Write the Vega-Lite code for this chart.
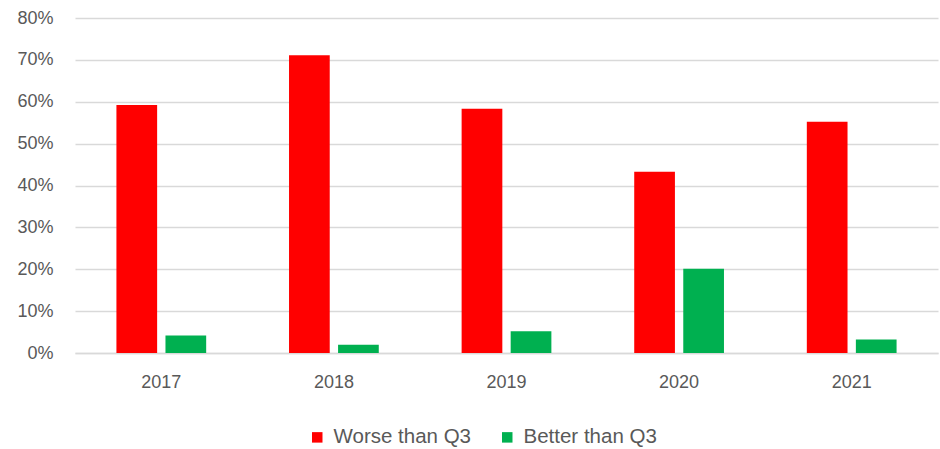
{
  "$schema": "https://vega.github.io/schema/vega-lite/v6.json",
  "autosize": {"type": "none"},
  "width": 863,
  "height": 335,
  "padding": {"left": 75, "top": 18, "right": 2, "bottom": 96},
  "background": "white",
  "data": {"values": [
    {"year": "2017", "series": "Worse than Q3", "value": 0.592},
    {"year": "2017", "series": "Better than Q3", "value": 0.042},
    {"year": "2018", "series": "Worse than Q3", "value": 0.711},
    {"year": "2018", "series": "Better than Q3", "value": 0.02},
    {"year": "2019", "series": "Worse than Q3", "value": 0.583},
    {"year": "2019", "series": "Better than Q3", "value": 0.052},
    {"year": "2020", "series": "Worse than Q3", "value": 0.433},
    {"year": "2020", "series": "Better than Q3", "value": 0.201},
    {"year": "2021", "series": "Worse than Q3", "value": 0.552},
    {"year": "2021", "series": "Better than Q3", "value": 0.032}
  ]},
  "mark": {"type": "bar"},
  "encoding": {
    "x": {
      "field": "year", "type": "nominal", "title": null,
      "scale": {"paddingInner": 0.48, "paddingOuter": 0.24},
      "axis": {"labelAngle": 0, "ticks": false, "domainColor": "#d9d9d9", "domainWidth": 1.5, "labelPadding": 20, "labelFontSize": 18, "labelColor": "#595959", "labelFont": "Liberation Sans"}
    },
    "xOffset": {
      "field": "series", "type": "nominal",
      "sort": ["Worse than Q3", "Better than Q3"],
      "scale": {"paddingInner": 0.17, "paddingOuter": 0}
    },
    "y": {
      "field": "value", "type": "quantitative", "title": null,
      "scale": {"domain": [0, 0.8], "nice": false},
      "axis": {"format": ".0%", "values": [0, 0.1, 0.2, 0.3, 0.4, 0.5, 0.6, 0.7, 0.8], "labelOverlap": false, "domain": false, "ticks": false, "gridColor": "#d9d9d9", "gridWidth": 1.5, "labelPadding": 22, "labelFontSize": 18, "labelColor": "#595959", "labelFont": "Liberation Sans"}
    },
    "color": {
      "field": "series", "type": "nominal",
      "scale": {"domain": ["Worse than Q3", "Better than Q3"], "range": ["#ff0000", "#00b050"]},
      "legend": {"title": null, "orient": "none", "direction": "horizontal", "legendX": 232, "legendY": 409, "symbolType": "square", "symbolSize": 110, "symbolStrokeWidth": 0, "labelFontSize": 20.5, "labelColor": "#595959", "labelFont": "Liberation Sans", "columnPadding": 26, "labelOffset": 6, "labelLimit": 300}
    }
  },
  "config": {"view": {"stroke": null}}
}
